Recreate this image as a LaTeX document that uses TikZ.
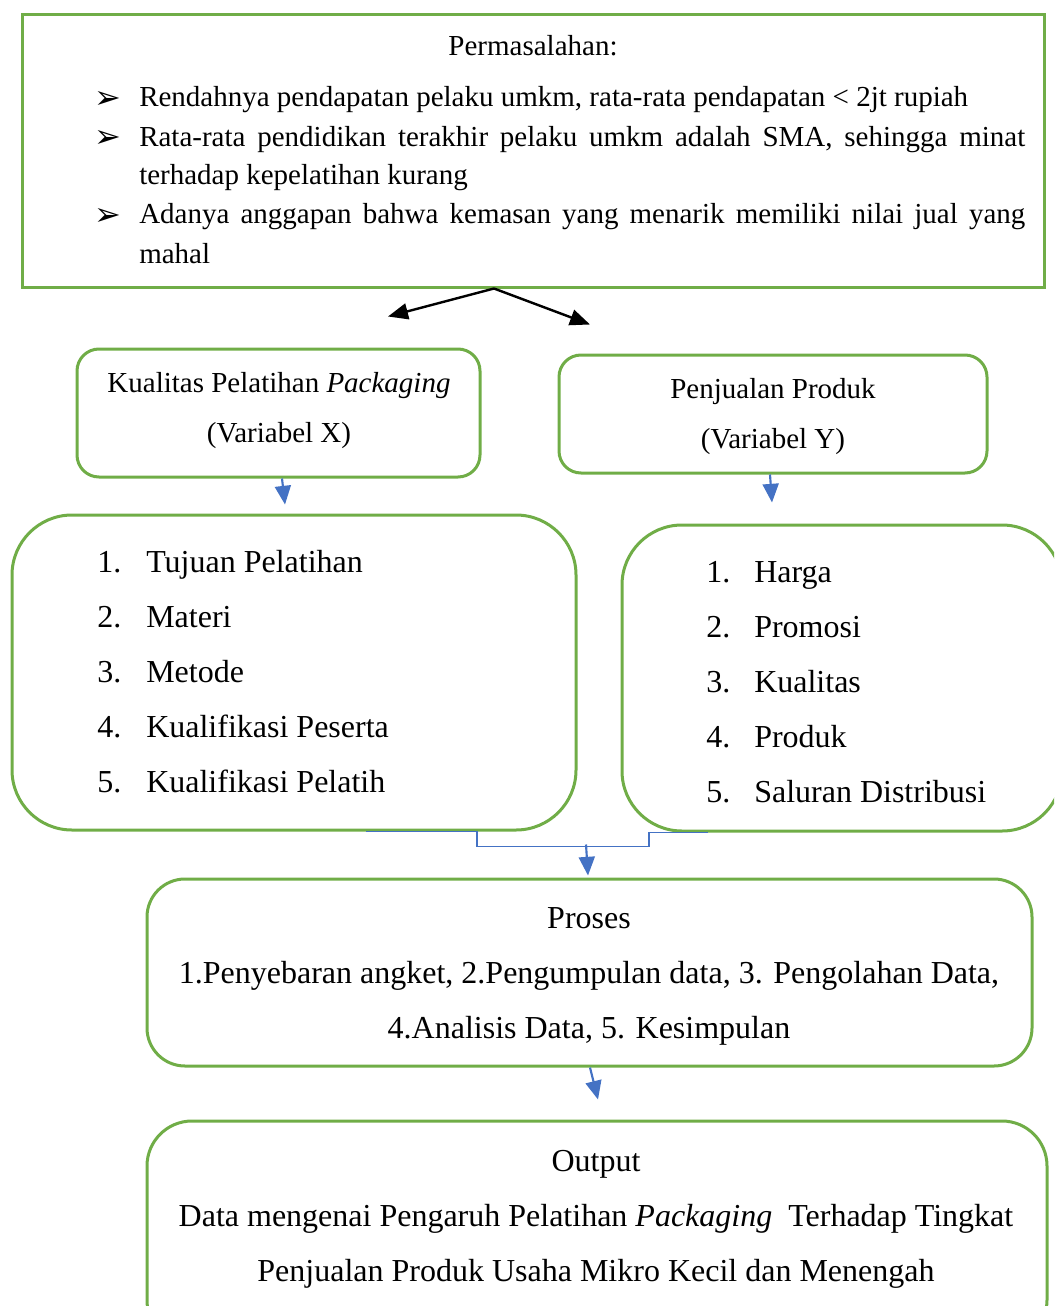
\documentclass[tikz,border=0pt]{standalone}
\usepackage{fontspec}
\setmainfont{Liberation Serif}
\newfontfamily\dejavu{DejaVu Sans}
\usetikzlibrary{arrows.meta,calc}
\newlength\px \setlength\px{0.75pt}
\definecolor{grn}{HTML}{70AD47}
\definecolor{blu}{HTML}{4472C4}
\newcommand\myarrowbullet{\makebox[42\px][l]{\hspace*{-2pt}\dejavu\fontsize{24pt}{24pt}\selectfont\raisebox{-1pt}{➢}}}
\begin{document}
\begin{tikzpicture}[x=0.75pt,y=-0.75pt,
  gbox/.style={draw=grn, line width=3\px, inner sep=0pt},
  fa/.style={font=\fontsize{21.75pt}{37.5pt}\selectfont},
  fb/.style={font=\fontsize{24pt}{41.25pt}\selectfont},
  blkarrow/.style={-{Triangle[length=15pt,width=12pt]}, line width=1.8pt, black},
  bluarrow/.style={-{Triangle[length=14pt,width=12pt]}, line width=1.6pt, blu},
  thinblue/.style={blu, line width=1pt}]
\clip (0,0) rectangle (1054,1306);
% boxes
\node[gbox, minimum width=1022\px, minimum height=272\px] (prob) at (533,151) {};
\node[gbox, rounded corners=22\px, minimum width=403\px, minimum height=128\px] (vx) at (278.5,413) {};
\node[gbox, rounded corners=22\px, minimum width=428\px, minimum height=118\px] (vy) at (773,414) {};
\node[gbox, rounded corners=60\px, minimum width=564\px, minimum height=315\px] (llist) at (294,672.5) {};
\node[gbox, rounded corners=60\px, minimum width=440\px, minimum height=306\px] (rlist) at (842,678) {};
\node[gbox, rounded corners=38\px, minimum width=885\px, minimum height=187\px] (proses) at (589.5,972.5) {};
\node[gbox, rounded corners=45\px, minimum width=900\px, minimum height=224\px] (output) at (597,1233) {};
% texts
\node[fa, anchor=base, inner sep=0] (ptitle) at (533,56) {Permasalahan:};
\node[anchor=base west, inner sep=0] (plist) at (97,107) {\parbox[t]{928\px}{\fontsize{21.75pt}{29.25pt}\selectfont\setlength\parindent{0pt}%
\hangindent=42\px\hangafter=1 \myarrowbullet Rendahnya pendapatan pelaku umkm, rata-rata pendapatan < 2jt rupiah\par
\hangindent=42\px\hangafter=1 \myarrowbullet Rata-rata pendidikan terakhir pelaku umkm adalah SMA, sehingga minat\linebreak terhadap kepelatihan kurang\par
\hangindent=42\px\hangafter=1 \myarrowbullet Adanya anggapan bahwa kemasan yang menarik memiliki nilai jual yang\linebreak mahal\par}};
\node[fa, align=center] (vxt) at (279,411) {Kualitas Pelatihan \textit{Packaging}\\(Variabel X)};
\node[fa, align=center] (vyt) at (773,416.5) {Penjualan Produk\\(Variabel Y)};
\node[anchor=base west, inner sep=0] (llt) at (97,572) {\parbox[t]{460\px}{\fontsize{24pt}{41.25pt}\selectfont
\makebox[49\px][l]{1.}Tujuan Pelatihan\\
\makebox[49\px][l]{2.}Materi\\
\makebox[49\px][l]{3.}Metode\\
\makebox[49\px][l]{4.}Kualifikasi Peserta\\
\makebox[49\px][l]{5.}Kualifikasi Pelatih}};
\node[anchor=base west, inner sep=0] (rlt) at (706,582) {\parbox[t]{340\px}{\fontsize{24pt}{41.25pt}\selectfont
\makebox[48\px][l]{1.}Harga\\
\makebox[48\px][l]{2.}Promosi\\
\makebox[48\px][l]{3.}Kualitas\\
\makebox[48\px][l]{4.}Produk\\
\makebox[48\px][l]{5.}Saluran Distribusi}};
\node[fb, align=center] (pt) at (589,976) {Proses\\1.Penyebaran angket, 2.Pengumpulan data, 3. Pengolahan Data,\\4.Analisis Data, 5. Kesimpulan};
\node[fb, align=center] (ot) at (596,1219) {Output\\Data mengenai Pengaruh Pelatihan \textit{Packaging}\ \ Terhadap Tingkat\\Penjualan Produk Usaha Mikro Kecil dan Menengah};
% connectors
\coordinate (split) at ($(prob.south)+(-39,0)$);
\coordinate (ta) at ($(vx.north)+(109.5,-31)$);
\coordinate (tb) at ($(vy.north)+(-183,-29)$);
\draw[blkarrow] (split) -- (ta);
\draw[blkarrow] (split) -- (tb);
\draw[bluarrow] ($(vx.south)+(3.5,0)$) -- ($(llist.north)+(-9,-9)$);
\draw[bluarrow] ($(vy.south)+(-3,0)$) -- ($(rlist.north)+(-70,-21)$);
\coordinate (join) at ($(proses.north)+(-3.5,-31)$);
\draw[thinblue] ($(llist.south)+(72,0)$) -- ($(llist.south)+(183,0)$) |- (join);
\draw[thinblue] ($(rlist.south)+(-134,0)$) -- ($(rlist.south)+(-193,0)$) |- (join);
\draw[bluarrow] ($(join)+(0,-2)$) -- ($(proses.north)+(-1.5,-2)$);
\draw[bluarrow] ($(proses.south)+(0.5,0)$) -- ($(output.north)+(1,-20)$);
\end{tikzpicture}
\end{document}
